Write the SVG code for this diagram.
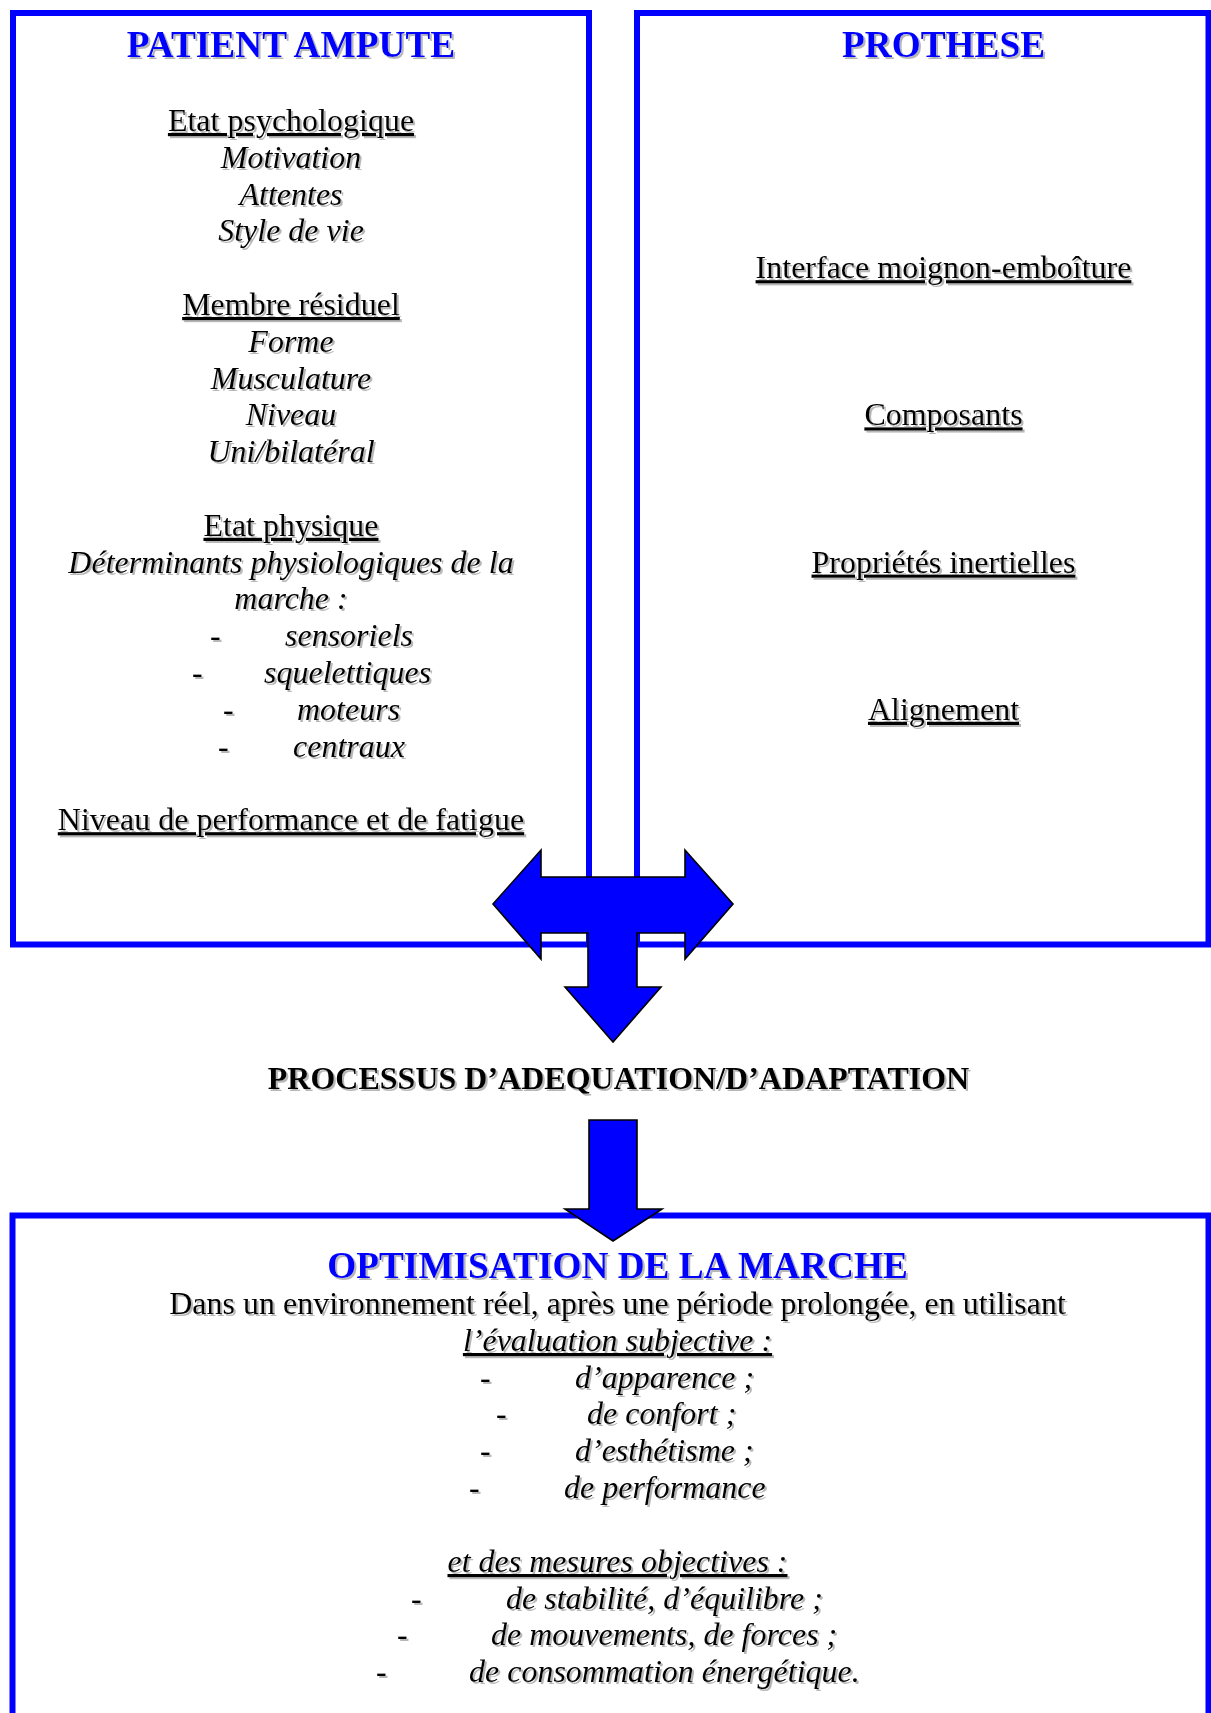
<svg xmlns="http://www.w3.org/2000/svg" width="1211" height="1713" viewBox="0 0 1211 1713">
<defs>
<style>
.box{fill:none;stroke:#0000FF;stroke-width:6}
.arr{fill:#0000FF;stroke:#000;stroke-width:1.6;stroke-linejoin:miter}
text{font-family:'Liberation Serif','Times New Roman',serif;font-size:32px;fill:#000;text-anchor:middle}
.h{font-weight:bold;font-size:37.3px;fill:#0000FF}
.b{font-weight:bold;font-size:32px}
.i{font-style:italic}
.u{text-decoration:underline}
.s{text-anchor:start}
.sh{filter:url(#shadow)}
</style>
<filter id="shadow" x="-5%" y="-20%" width="110%" height="140%">
<feDropShadow dx="2" dy="2" stdDeviation="0.6" flood-color="#999" flood-opacity="0.7"/>
</filter>
</defs>
<rect width="1211" height="1713" fill="#fff"/>

<g id="patient">
<rect class="box" x="13" y="13" width="576" height="931.5"/>
<g class="sh">
<text class="h" x="291" y="57.4">PATIENT AMPUTE</text>
<text class="u" x="291" y="131">Etat psychologique</text>
<text class="i" x="291" y="167.8">Motivation</text>
<text class="i" x="291" y="204.6">Attentes</text>
<text class="i" x="291" y="241.4">Style de vie</text>
<text class="u" x="291" y="315">Membre résiduel</text>
<text class="i" x="291" y="351.8">Forme</text>
<text class="i" x="291" y="388.6">Musculature</text>
<text class="i" x="291" y="425.4">Niveau</text>
<text class="i" x="291" y="462.2">Uni/bilatéral</text>
<text class="u" x="291" y="535.8">Etat physique</text>
<text class="i" x="291" y="572.6">Déterminants physiologiques de la</text>
<text class="i" x="291" y="609.4">marche :</text>
<text class="s" x="210" y="646.2">-</text><text class="i s" x="285" y="646.2">sensoriels</text>
<text class="s" x="192" y="683">-</text><text class="i s" x="264" y="683">squelettiques</text>
<text class="s" x="223" y="719.8">-</text><text class="i s" x="297" y="719.8">moteurs</text>
<text class="s" x="218" y="756.6">-</text><text class="i s" x="293" y="756.6">centraux</text>
<text class="u" x="291" y="830.2">Niveau de performance et de fatigue</text>
</g>
</g>

<g id="prothese">
<rect class="box" x="637" y="13" width="571.5" height="931.5"/>
<g class="sh">
<text class="h" x="943.5" y="57.4">PROTHESE</text>
<text class="u" x="943.5" y="278.2">Interface moignon-emboîture</text>
<text class="u" x="943.5" y="425.4">Composants</text>
<text class="u" x="943.5" y="572.6">Propriétés inertielles</text>
<text class="u" x="943.5" y="719.8">Alignement</text>
</g>
</g>

<g id="processus">
<text class="b sh" x="618.5" y="1089">PROCESSUS D’ADEQUATION/D’ADAPTATION</text>
</g>

<g id="optimisation">
<rect class="box" x="12.5" y="1215.5" width="1196" height="600"/>
<g class="sh">
<text class="h" x="617.5" y="1278">OPTIMISATION DE LA MARCHE</text>
<text x="617.5" y="1314">Dans un environnement réel, après une période prolongée, en utilisant</text>
<text class="i u" x="617.5" y="1351">l’évaluation subjective :</text>
<text class="s" x="480" y="1388">-</text><text class="i s" x="575" y="1388">d’apparence ;</text>
<text class="s" x="496" y="1424">-</text><text class="i s" x="587" y="1424">de confort ;</text>
<text class="s" x="480" y="1461">-</text><text class="i s" x="575" y="1461">d’esthétisme ;</text>
<text class="s" x="469" y="1498">-</text><text class="i s" x="564" y="1498">de performance</text>
<text class="i u" x="617.5" y="1572">et des mesures objectives :</text>
<text class="s" x="411" y="1609">-</text><text class="i s" x="506" y="1609">de stabilité, d’équilibre ;</text>
<text class="s" x="397" y="1645">-</text><text class="i s" x="491" y="1645">de mouvements, de forces ;</text>
<text class="s" x="376" y="1682">-</text><text class="i s" x="469" y="1682">de consommation énergétique.</text>
</g>
</g>

<g id="connectors">
<path class="arr" d="M493,904 L541,850 L541,877 L685,877 L685,850 L733,904 L685,959 L685,933 L637,933 L637,987 L661,987 L613,1042 L565,987 L588,987 L588,933 L541,933 L541,959 Z"/>
<path class="arr" d="M589,1120 L637,1120 L637,1209 L662,1209 L613,1241 L565,1209 L589,1209 Z"/>
</g>
</svg>
